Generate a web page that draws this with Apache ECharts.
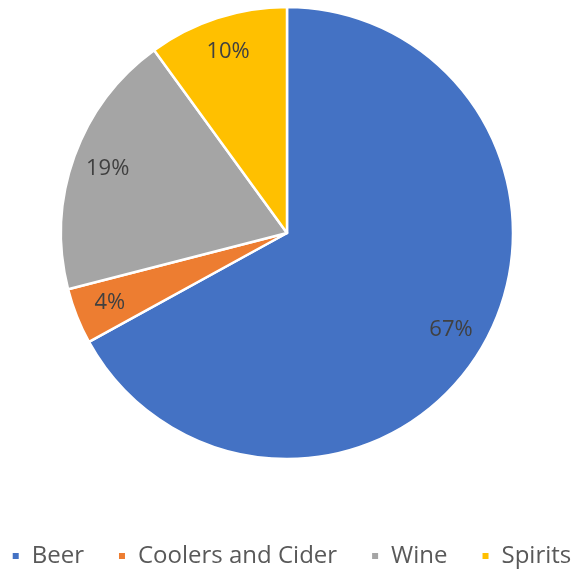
<!DOCTYPE html>
<html><head><meta charset="utf-8">
<script src="https://cdn.jsdelivr.net/npm/echarts@6/dist/echarts.min.js"></script>
<style>html,body{margin:0;padding:0;background:#fff}#c{width:582px;height:569px}</style>
</head><body><div id="c"></div>
<script>
const categories = ['Beer', 'Coolers and Cider', 'Wine', 'Spirits'];
const values = [67, 4, 19, 10];
const colors = ['#4472C4', '#ED7D31', '#A5A5A5', '#FFC000'];

const data = categories.map((n, i) => ({ name: n, value: values[i] }));
const chart = echarts.init(document.getElementById('c'));
const R = 226;
chart.setOption({
  animation: false,
  color: colors,
  legend: {
    top: 539,
    left: 'center',
    icon: 'rect',
    itemWidth: 8,
    itemHeight: 8,
    itemGap: 33,
    textStyle: { fontSize: 24, color: '#595959', fontFamily: 'Open Sans', padding: [0, 0, 0, 7] },
    data: categories
  },
  series: [
    {
      type: 'pie',
      center: [287, 233],
      radius: [0, R],
      startAngle: 90,
      clockwise: true,
      data: data,
      label: { show: false },
      labelLine: { show: false },
      itemStyle: { borderColor: '#fff', borderWidth: 2.5 },
      emphasis: { disabled: true }
    },
    {
      type: 'pie',
      center: [287, 233],
      radius: [R * 0.66, R],
      startAngle: 90,
      clockwise: true,
      silent: true,
      data: data,
      itemStyle: { color: 'rgba(0,0,0,0)', borderWidth: 0 },
      label: {
        show: true, position: 'inside',
        formatter: p => p.value + '%',
        fontSize: 22, color: '#404040', fontFamily: 'Open Sans'
      },
      labelLine: { show: false },
      emphasis: { disabled: true }
    }
  ]
});
</script></body></html>
